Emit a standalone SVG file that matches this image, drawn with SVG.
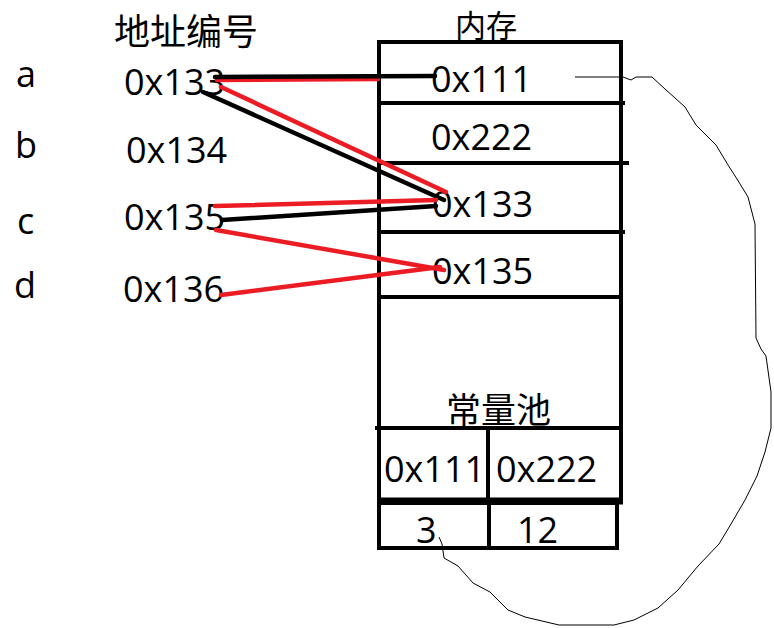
<svg xmlns="http://www.w3.org/2000/svg" width="774" height="628" viewBox="0 0 774 628">
<style>
.lat{font-family:"Open Sans","Noto Sans",sans-serif;font-size:36px;fill:#000}
.cjk{font-family:"Noto Sans CJK SC",sans-serif;font-size:35px;fill:#000}
.box{stroke:#000;stroke-width:4;fill:none}
.blk{stroke:#000;stroke-width:4.5;fill:none;stroke-linecap:round}
.red{stroke:#ec1c24;stroke-width:4.5;fill:none;stroke-linecap:round}
.thin{stroke:#000;stroke-width:1;fill:none;stroke-linejoin:round}
</style>
<rect width="774" height="628" fill="#fff"/>
<g id="labels">
<text class="cjk" x="114" y="45" style="font-size:36px">地址编号</text>
<text class="cjk" x="455" y="37" style="font-size:31px">内存</text>
<text class="lat" x="16" y="87">a</text>
<text class="lat" x="15" y="158">b</text>
<text class="lat" x="17" y="234">c</text>
<text class="lat" x="14" y="298">d</text>
</g>
<g id="addresses">
<text class="lat" x="124" y="95">0x133</text>
<text class="lat" x="126" y="163">0x134</text>
<text class="lat" x="124" y="230">0x135</text>
<text class="lat" x="123" y="302">0x136</text>
</g>
<g id="memory">
<line class="box" x1="379" y1="42" x2="621" y2="42"/>
<line class="box" x1="379" y1="40" x2="379" y2="550"/>
<line class="box" x1="621" y1="40" x2="621" y2="502"/>
<line class="box" x1="379" y1="103" x2="625" y2="103"/>
<line class="box" x1="379" y1="163" x2="629" y2="163"/>
<line class="box" x1="379" y1="232" x2="625" y2="232"/>
<line class="box" x1="379" y1="297" x2="621" y2="297"/>
<text class="lat" x="431" y="92">0x111</text>
<text class="lat" x="431" y="150">0x222</text>
<text class="lat" x="432" y="217">0x133</text>
<text class="lat" x="432" y="284">0x135</text>
</g>
<g id="pool">
<text class="cjk" x="446" y="423">常量池</text>
<line class="box" x1="375" y1="428" x2="623" y2="428"/>
<line class="box" x1="488" y1="428" x2="488" y2="500"/>
<line stroke="#000" stroke-width="7" x1="377" y1="501" x2="623" y2="501"/>
<rect class="box" x="379" y="503" width="238" height="45"/>
<line class="box" x1="489" y1="503" x2="489" y2="548"/>
<text class="lat" x="384" y="482">0x111</text>
<text class="lat" x="496" y="482">0x222</text>
<text class="lat" x="416" y="543">3</text>
<text class="lat" x="517" y="543">12</text>
</g>
<g id="connectors">
<line class="red" x1="217" y1="80" x2="378" y2="79" stroke-width="3"/>
<line class="blk" x1="215" y1="77" x2="435" y2="76"/>
<line class="blk" x1="203" y1="92" x2="444" y2="200"/>
<line class="red" x1="221" y1="87" x2="446" y2="192"/>
<line class="red" x1="215" y1="206" x2="436" y2="200"/>
<line class="blk" x1="222" y1="220" x2="436" y2="206"/>
<line class="red" x1="216" y1="230" x2="444" y2="270"/>
<line class="red" x1="221" y1="295" x2="440" y2="267"/>
<polyline class="thin" points="575,77 623,77 631,80 636,77 652,77 665,89 685,107 696,125 716,145 728,165 737,179 748,197 755,224 756,338 761,349 766,356 771,392 771,428 765,452 757,476 745,500 731,524 719,544 698,566 678,590 658,608 634,620 614,625 559,625 525,617 508,610 490,592 473,583 458,566 444,558 442,544 439,537"/>
</g>
</svg>
